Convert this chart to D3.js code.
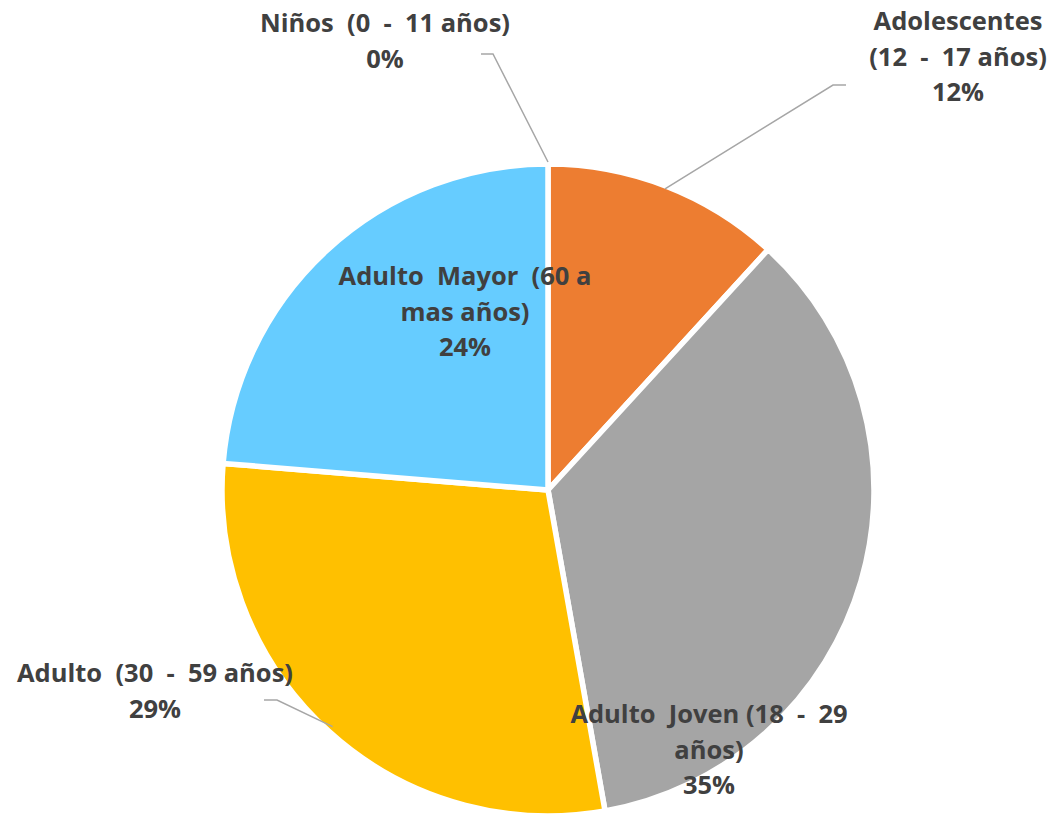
<!DOCTYPE html>
<html><head><meta charset="utf-8">
<script src="https://cdn.jsdelivr.net/npm/d3@7"></script>
<style>
html,body{margin:0;padding:0;background:#fff;}
svg text{white-space:pre;}
</style></head>
<body>
<svg id="chart" width="1056" height="817"></svg>
<script>
// ---- data ----
const categories = ["Niños (0 - 11 años)", "Adolescentes (12 - 17 años)", "Adulto Joven (18 - 29 años)", "Adulto (30 - 59 años)", "Adulto Mayor (60 a mas años)"];
const values = [0, 11.8, 35.4, 29.1, 23.7];
const colors = ["#4472C4", "#ED7D31", "#A5A5A5", "#FFC000", "#66CCFF"];
// label text lines (category text as wrapped in the picture)
const labelText = [
  ["Niños  (0  -  11 años)"],
  ["Adolescentes", "(12  -  17 años)"],
  ["Adulto  Joven (18  -  29", "años)"],
  ["Adulto  (30  -  59 años)"],
  ["Adulto  Mayor  (60 a", "mas años)"]
];

// ---- layout ----
const cx = 548, cy = 490, R = 326;
const fontSize = 25.5, lineH = 35.5;
const labelPos = [ {x:385, y:23}, {x:958, y:21}, {x:709, y:714}, {x:155, y:673}, {x:465, y:276} ];
const leaders = [
  {label:[481,54], elbow:[493,54]},
  {label:[846,85], elbow:[833,85]},
  null,
  {label:[264,700], elbow:[277,700]},
  null
];

const svg = d3.select("#chart");
const g = svg.append("g").attr("transform", `translate(${cx},${cy})`);
const data = categories.map((c,i)=>({cat:c, value:values[i], color:colors[i], idx:i}));
const pie = d3.pie().sort(null).value(d=>d.value);
const arcs = pie(data);
const arc = d3.arc().innerRadius(0).outerRadius(R);

g.selectAll("path.slice").data(arcs.filter(d=>d.data.value>0)).enter().append("path")
  .attr("class","slice")
  .attr("d", arc)
  .attr("fill", d=>d.data.color)
  .attr("stroke", "#fff").attr("stroke-width", 5.5).attr("stroke-linejoin","miter");

// leader lines
const total = d3.sum(values);
arcs.forEach((a,i)=>{
  const L = leaders[i]; if(!L) return;
  const mid = (a.startAngle + a.endAngle)/2;
  let p;
  if (i===0) p = [cx + Math.sin(mid)*(R+2), cy - Math.cos(mid)*(R+2)];
  else if (i===1) p = [cx + Math.sin(mid)*(R-3), cy - Math.cos(mid)*(R-3)];
  else p = [cx + Math.sin(mid)*(R-6), cy - Math.cos(mid)*(R-6)];
  svg.append("polyline")
    .attr("points", [L.label, L.elbow, p].map(q=>q.join(",")).join(" "))
    .attr("fill","none").attr("stroke","#A6A6A6").attr("stroke-width",1.5);
});

// labels
arcs.forEach((a,i)=>{
  const lines = labelText[i].concat([d3.format(".0f")(a.data.value/total*100) + "%"]);
  const t = svg.append("text")
    .attr("text-anchor","middle")
    .attr("font-family","'Open Sans', 'Noto Sans', sans-serif")
    .attr("font-weight","bold")
    .attr("font-size", fontSize)
    .attr("fill","#404040");
  lines.forEach((ln,k)=>{
    t.append("tspan").attr("x", labelPos[i].x).attr("y", labelPos[i].y + k*lineH + fontSize*0.36).text(ln);
  });
});
</script>
</body></html>
